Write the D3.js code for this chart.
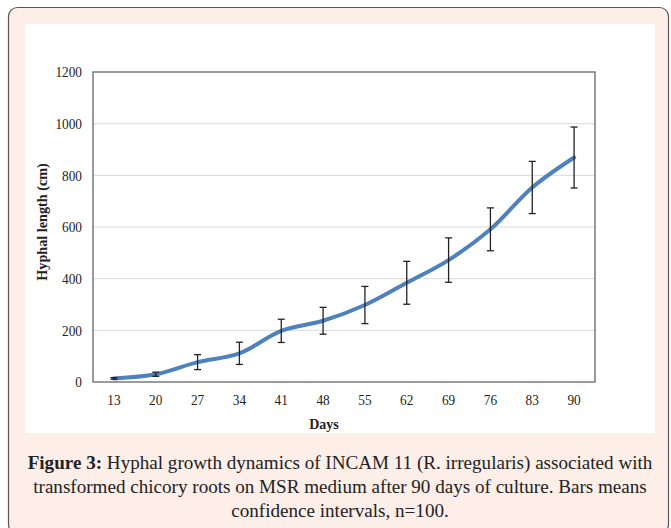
<!DOCTYPE html>
<html>
<head>
<meta charset="utf-8">
<script src="https://cdn.jsdelivr.net/npm/d3@7"></script>
<style>
  html, body { margin: 0; padding: 0; background: #ffffff; }
  svg { display: block; }
</style>
</head>
<body>
<svg id="chart" width="671" height="528"></svg>
<script>
const days = ["13", "20", "27", "34", "41", "48", "55", "62", "69", "76", "83", "90"];
const hyphalLength = [14, 30, 77, 111, 198, 237, 298, 384, 472, 591, 753, 869];
const ciHalfWidth = [3, 8, 29, 43, 45, 52, 72, 83, 86, 83, 101, 118];
const yTicks = [0, 200, 400, 600, 800, 1000, 1200];
const captionBold = "Figure 3:";
const captionLines = [
  " Hyphal growth dynamics of INCAM 11 (R. irregularis) associated with",
  "transformed chicory roots on MSR medium after 90 days of culture. Bars means",
  "confidence intervals, n=100."
];

const svg = d3.select("#chart");

// outer box
svg.append("rect")
  .attr("x", 8.5).attr("y", 7.5).attr("width", 660).attr("height", 526)
  .attr("rx", 9).attr("ry", 9)
  .attr("fill", "#fdeee8").attr("stroke", "#555").attr("stroke-width", 1.2);

// white panel
svg.append("rect")
  .attr("x", 25).attr("y", 24).attr("width", 630).attr("height", 409)
  .attr("fill", "#ffffff");

const plot = { left: 93, right: 595, top: 72, bottom: 382 };

const x = d3.scalePoint().domain(days).range([plot.left, plot.right]).padding(0.5);
const y = d3.scaleLinear().domain([0, 1200]).range([plot.bottom, plot.top]);

// gridlines
svg.append("g").selectAll("line").data(yTicks.filter(t => t > 0 && t < 1200)).join("line")
  .attr("x1", plot.left).attr("x2", plot.right)
  .attr("y1", d => y(d)).attr("y2", d => y(d))
  .attr("stroke", "#d9d9d9").attr("stroke-width", 1);

// plot frame
svg.append("rect")
  .attr("x", plot.left).attr("y", plot.top)
  .attr("width", plot.right - plot.left).attr("height", plot.bottom - plot.top)
  .attr("fill", "none").attr("stroke", "#595959").attr("stroke-width", 1.2);

const sx = 0.86;
// y axis
const yAxis = d3.axisLeft(y).tickValues(yTicks).tickFormat(d3.format("d")).tickSize(0).tickPadding(11);
const gy = svg.append("g").attr("transform", `translate(${plot.left},0)`).call(yAxis);
gy.select(".domain").remove();
gy.selectAll("text")
  .attr("font-family", "'Liberation Serif', 'DejaVu Serif', serif")
  .attr("font-size", 15.5).attr("fill", "#222")
  .attr("transform", `scale(${sx},1)`)
  .attr("x", -11 / sx);

// x axis
const xAxis = d3.axisBottom(x).tickSize(0).tickPadding(12);
const gx = svg.append("g").attr("transform", `translate(0,${plot.bottom})`).call(xAxis);
gx.select(".domain").remove();
gx.selectAll("text")
  .attr("font-family", "'Liberation Serif', 'DejaVu Serif', serif")
  .attr("font-size", 15.5).attr("fill", "#222")
  .attr("transform", `scale(${sx},1)`)
  .each(function() {
    const p = d3.select(this.parentNode).attr("transform");
  });
// keep x labels centred on their ticks after horizontal compression
gx.selectAll(".tick").each(function(d) {
  d3.select(this).attr("transform", `translate(${x(d)},0)`);
});

// axis titles
svg.append("text")
  .attr("transform", `translate(47,${(plot.top + plot.bottom) / 2 - 5}) rotate(-90)`)
  .attr("text-anchor", "middle")
  .attr("font-family", "'Liberation Serif', serif").attr("font-weight", "bold")
  .attr("font-size", 14.2).attr("fill", "#222")
  .text("Hyphal length (cm)");

svg.append("text")
  .attr("x", (plot.left + plot.right) / 2 - 20).attr("y", 429)
  .attr("text-anchor", "middle")
  .attr("font-family", "'Liberation Serif', serif").attr("font-weight", "bold")
  .attr("font-size", 14).attr("fill", "#222")
  .text("Days");

// line
const line = d3.line()
  .x((d, i) => x(days[i]))
  .y(d => y(d))
  .curve(d3.curveCatmullRom.alpha(0.5));

svg.append("path")
  .datum(hyphalLength)
  .attr("d", line)
  .attr("fill", "none")
  .attr("stroke", "#4f81bd")
  .attr("stroke-width", 4)
  .attr("stroke-linecap", "round");

// error bars
const eb = svg.append("g").attr("stroke", "#222").attr("stroke-width", 1.3);
hyphalLength.forEach((v, i) => {
  const cx = x(days[i]);
  const lo = y(v - ciHalfWidth[i]);
  const hi = y(v + ciHalfWidth[i]);
  eb.append("line").attr("x1", cx).attr("x2", cx).attr("y1", lo).attr("y2", hi);
  eb.append("line").attr("x1", cx - 3.5).attr("x2", cx + 3.5).attr("y1", lo).attr("y2", lo);
  eb.append("line").attr("x1", cx - 3.5).attr("x2", cx + 3.5).attr("y1", hi).attr("y2", hi);
});

// caption
const cap = svg.append("g")
  .attr("font-family", "'Liberation Serif', 'DejaVu Serif', serif")
  .attr("font-size", 19.1).attr("fill", "#222").attr("text-anchor", "middle");
const t1 = cap.append("text").attr("x", 340).attr("y", 469);
t1.append("tspan").attr("font-weight", "bold").text(captionBold);
t1.append("tspan").text(captionLines[0]);
cap.append("text").attr("x", 340).attr("y", 493).text(captionLines[1]);
cap.append("text").attr("x", 340).attr("y", 517).text(captionLines[2]);
</script>
</body>
</html>
